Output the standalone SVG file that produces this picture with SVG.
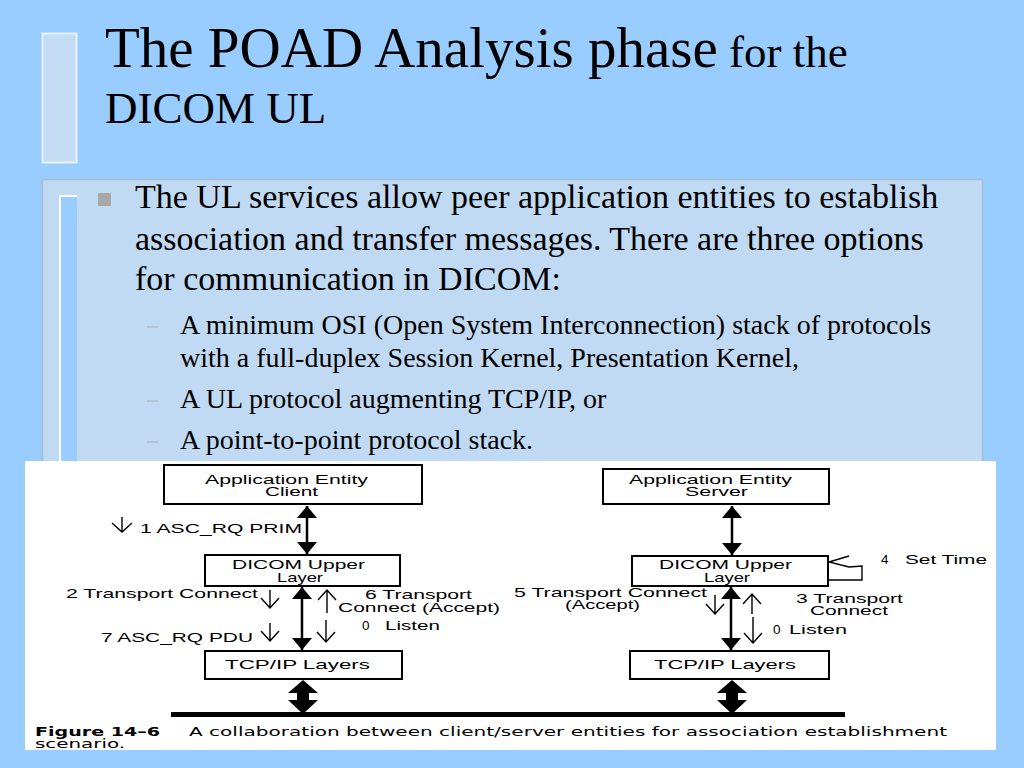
<svg xmlns="http://www.w3.org/2000/svg" width="1024" height="768" viewBox="0 0 1024 768">
<style>
.title{font-family:"Liberation Serif","Times New Roman",serif;fill:#000}
.body{font-family:"Liberation Serif","Times New Roman",serif;font-size:34px;fill:#000}
.sub{font-family:"Liberation Serif","Times New Roman",serif;font-size:28px;fill:#000}
.lbl{font-family:"Liberation Sans",Arial,sans-serif;font-size:13.5px;fill:#000}
.cap{font-family:"DejaVu Sans",Verdana,sans-serif;font-size:12px;fill:#000}
.box{fill:#fff;stroke:#000;stroke-width:2}
.open{fill:none;stroke:#000;stroke-width:1.4}
.dbl{stroke:#000;stroke-width:2.5;fill:none;marker-start:url(#fh);marker-end:url(#fh)}
.thick{fill:#000}
</style>
<defs>
<marker id="fh" viewBox="0 0 12 20" refX="12" refY="10" markerWidth="12" markerHeight="20" markerUnits="userSpaceOnUse" orient="auto-start-reverse">
<path d="M0,0 L12,10 L0,20 z" fill="#000"/>
</marker>
</defs>
<rect x="0" y="0" width="1024" height="768" fill="#99CCFF"/>
<g id="title-deco">
<rect x="42.5" y="33.5" width="34" height="129" fill="#C3DBF3" stroke="#E6F1FC" stroke-width="2"/>
</g>
<g id="title">
<text class="title" x="105" y="67" font-size="57">The POAD Analysis phase<tspan font-size="45"> for the</tspan></text>
<text class="title" x="105" y="123" font-size="45">DICOM UL</text>
</g>
<g id="panel">
<rect x="42.5" y="179.5" width="940" height="300" fill="#C0DAF4" stroke="#A9BCD0" stroke-width="1.5"/>
<rect x="60" y="196" width="17" height="280" fill="#99CCFF"/>
<path d="M60,476 V196 H77" fill="none" stroke="#FFFFFF" stroke-width="2"/>
<rect x="98" y="193" width="13" height="13" fill="#A8A8A8"/>
<text class="body" x="135" y="208">The UL services allow peer application entities to establish</text>
<text class="body" x="135" y="250">association and transfer messages. There are three options</text>
<text class="body" x="135" y="290">for communication in DICOM:</text>
<g stroke="#AEB8C4" stroke-width="1.2">
<line x1="147" y1="327" x2="158" y2="327"/>
<line x1="147" y1="401" x2="158" y2="401"/>
<line x1="147" y1="442" x2="158" y2="442"/>
</g>
<text class="sub" x="180" y="334">A minimum OSI (Open System Interconnection) stack of protocols</text>
<text class="sub" x="180" y="367">with a full-duplex Session Kernel, Presentation Kernel,</text>
<text class="sub" x="180" y="408">A UL protocol augmenting TCP/IP, or</text>
<text class="sub" x="180" y="449">A point-to-point protocol stack.</text>
</g>
<rect x="25" y="461" width="971" height="289" fill="#FFFFFF"/>
<g id="client-ae">
<rect class="box" x="164" y="465" width="258" height="39"/>
<text class="lbl" x="205" y="484" textLength="163" lengthAdjust="spacingAndGlyphs">Application Entity</text>
<text class="lbl" x="265" y="496" textLength="53" lengthAdjust="spacingAndGlyphs">Client</text>
</g>
<g id="client-ul">
<rect class="box" x="205" y="555" width="195" height="31"/>
<text class="lbl" x="232" y="569" textLength="133" lengthAdjust="spacingAndGlyphs">DICOM Upper</text>
<text class="lbl" x="277" y="582" textLength="46" lengthAdjust="spacingAndGlyphs">Layer</text>
</g>
<g id="client-tcp">
<rect class="box" x="205" y="651" width="197" height="28"/>
<text class="lbl" x="225" y="669" textLength="145" lengthAdjust="spacingAndGlyphs">TCP/IP Layers</text>
</g>
<g id="server-ae">
<rect class="box" x="603" y="469" width="226" height="35"/>
<text class="lbl" x="629" y="484" textLength="163" lengthAdjust="spacingAndGlyphs">Application Entity</text>
<text class="lbl" x="685" y="496" textLength="63" lengthAdjust="spacingAndGlyphs">Server</text>
</g>
<g id="server-ul">
<rect class="box" x="632" y="556" width="196" height="30"/>
<text class="lbl" x="659" y="569" textLength="133" lengthAdjust="spacingAndGlyphs">DICOM Upper</text>
<text class="lbl" x="704" y="582" textLength="46" lengthAdjust="spacingAndGlyphs">Layer</text>
</g>
<g id="server-tcp">
<rect class="box" x="630" y="651" width="199" height="28"/>
<text class="lbl" x="654" y="669" textLength="142" lengthAdjust="spacingAndGlyphs">TCP/IP Layers</text>
</g>
<g id="network">
<rect x="171" y="712" width="674" height="5" fill="#000"/>
</g>
<g id="connectors">
<line class="dbl" x1="307" y1="506" x2="307" y2="554"/>
<line class="dbl" x1="732" y1="506" x2="732" y2="555"/>
<line class="dbl" x1="302" y1="587" x2="302" y2="650"/>
<line class="dbl" x1="731" y1="587" x2="731" y2="650"/>
<polygon class="thick" points="303,680 318,693 309,693 309,700 318,700 303,714 288,700 297,700 297,693 288,693"/>
<polygon class="thick" points="732,680 747,693 738,693 738,700 747,700 732,714 717,700 726,700 726,693 717,693"/>
<path class="open" d="M122,517 V532 M112,523 L122,532 L132,523"/>
<path class="open" d="M270,590 V608 M261,598 L270,608 L279,598"/>
<path class="open" d="M270,623 V641 M261,631 L270,641 L279,631"/>
<path class="open" d="M326,620 V642 M317,632 L326,642 L335,632"/>
<path class="open" d="M327,613 V590 M318,600 L327,590 L336,600"/>
<path class="open" d="M715,595 V614 M706,604 L715,614 L724,604"/>
<path class="open" d="M753,617 V643 M744,633 L753,643 L762,633"/>
<path class="open" d="M752,614 V594 M743,604 L752,594 L761,604"/>
<path class="open" d="M849,556 L829,562 L849,567 L862,566 V580 H829"/>
</g>
<g id="labels">
<text class="lbl" x="140" y="533" textLength="162" lengthAdjust="spacingAndGlyphs">1 ASC_RQ PRIM</text>
<text class="lbl" x="66" y="598" textLength="192" lengthAdjust="spacingAndGlyphs">2 Transport Connect</text>
<text class="lbl" x="365" y="599" textLength="107" lengthAdjust="spacingAndGlyphs">6 Transport</text>
<text class="lbl" x="338" y="611.5" textLength="162" lengthAdjust="spacingAndGlyphs">Connect (Accept)</text>
<text class="lbl" x="362" y="630">0</text>
<text class="lbl" x="385" y="630" textLength="55" lengthAdjust="spacingAndGlyphs">Listen</text>
<text class="lbl" x="101" y="642" textLength="152" lengthAdjust="spacingAndGlyphs">7 ASC_RQ PDU</text>
<text class="lbl" x="881" y="564">4</text>
<text class="lbl" x="905" y="564" textLength="82" lengthAdjust="spacingAndGlyphs">Set Time</text>
<text class="lbl" x="514" y="597" textLength="193" lengthAdjust="spacingAndGlyphs">5 Transport Connect</text>
<text class="lbl" x="565" y="609" textLength="75" lengthAdjust="spacingAndGlyphs">(Accept)</text>
<text class="lbl" x="796" y="603" textLength="107" lengthAdjust="spacingAndGlyphs">3 Transport</text>
<text class="lbl" x="810" y="614.5" textLength="78" lengthAdjust="spacingAndGlyphs">Connect</text>
<text class="lbl" x="773" y="634">0</text>
<text class="lbl" x="789" y="634" textLength="58" lengthAdjust="spacingAndGlyphs">Listen</text>
</g>
<g id="caption">
<text class="cap" x="35" y="736" font-weight="bold" textLength="125" lengthAdjust="spacingAndGlyphs">Figure 14–6</text>
<text class="cap" x="189" y="736" textLength="758" lengthAdjust="spacingAndGlyphs">A collaboration between client/server entities for association establishment</text>
<text class="cap" x="35" y="748" textLength="90" lengthAdjust="spacingAndGlyphs">scenario.</text>
</g>
</svg>
